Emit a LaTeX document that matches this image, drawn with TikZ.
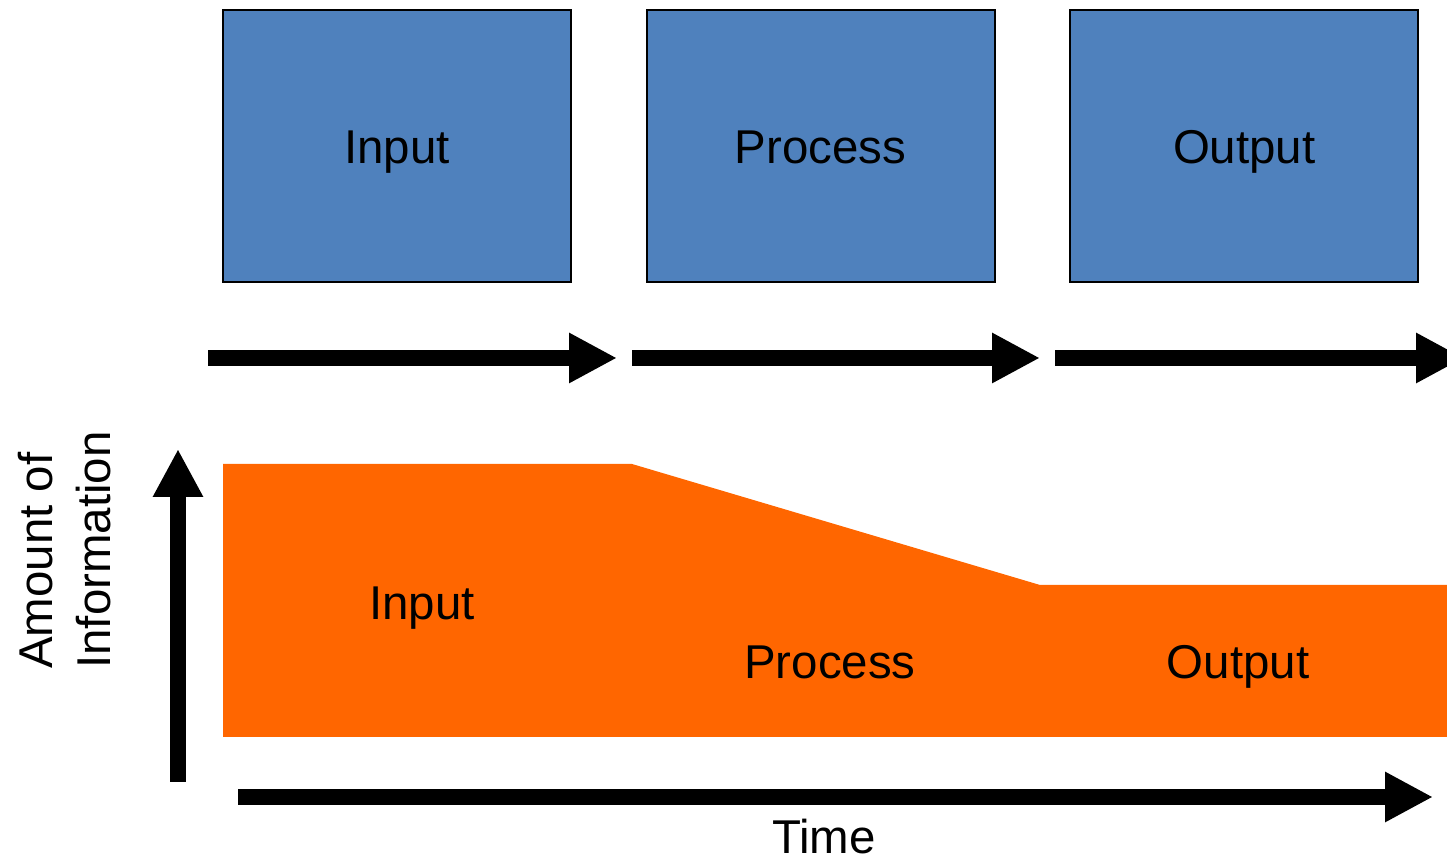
\documentclass[tikz,border=0pt]{standalone}
\usepackage{fontspec}
\setmainfont{Liberation Sans}
\usepackage{xcolor}
\usepackage{tikz}
\usetikzlibrary{arrows.meta, positioning}
\definecolor{boxblue}{HTML}{4F81BD}
\definecolor{infoorange}{HTML}{FF6600}

\begin{document}
\begin{tikzpicture}[
    font=\fontsize{13.5}{16.5}\selectfont,
    stage/.style={draw, line width=0.6pt, fill=boxblue, minimum width=3.48cm,
      minimum height=2.72cm, text height=9.7pt, text depth=0pt, inner sep=0pt},
    bigarrow/.style={line width=4.5pt, -{Triangle[length=4.8mm, width=4.7mm]}},
    node distance=0.735cm]
  \useasboundingbox (0,0) rectangle (14.47,8.61);
  \clip (0,0) rectangle (14.47,8.61);

  % the three stages
  \node[stage] (in) at (3.97,7.15) {Input};
  \node[stage, right=of in] (proc) {Process};
  \node[stage, right=of proc] (out) {Output};

  % flow arrows under the stages
  \coordinate (a0) at (2.08,5.03);
  \coordinate (a1) at (6.17,5.03);
  \coordinate (b0) at (6.32,5.03);
  \coordinate (b1) at (10.40,5.03);
  \coordinate (c0) at (10.55,5.03);
  \coordinate (c1) at (14.64,5.03);
  \draw[bigarrow] (a0) -- (a1);
  \draw[bigarrow] (b0) -- (b1);
  \draw[bigarrow] (c0) -- (c1);

  % amount of information over time
  \fill[infoorange] (2.23,3.97) -- (6.32,3.97) -- (10.40,2.76) -- (14.47,2.76)
    -- (14.47,1.24) -- (2.23,1.24) -- cycle;
  \node[anchor=base] (inA) at (4.22,2.41) {Input};
  \node[anchor=base] (procA) at (8.30,1.82) {Process};
  \node[anchor=base] (outA) at (12.38,1.82) {Output};

  % axes
  \coordinate (y0) at (1.78,0.79);
  \coordinate (y1) at (1.78,4.12);
  \coordinate (x0) at (2.38,0.64);
  \coordinate (x1) at (14.33,0.64);
  \draw[bigarrow] (y0) -- (y1);
  \draw[bigarrow] (x0) -- (x1);
  \node[rotate=90, align=left, inner sep=0pt] (ylab) at (0.65,3.11) {Amount of\\Information};
  \node[anchor=base, inner sep=0pt] (xlab) at (8.24,0.07) {Time};
\end{tikzpicture}
\end{document}
